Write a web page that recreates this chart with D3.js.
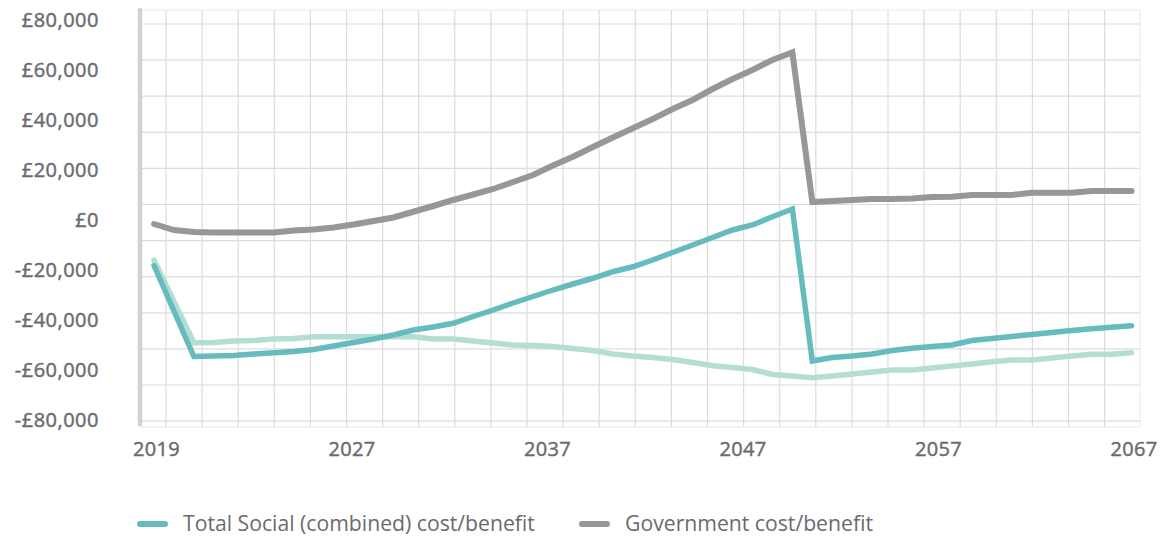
<!DOCTYPE html>
<html>
<head>
<meta charset="utf-8">
<script src="https://cdn.jsdelivr.net/npm/d3@7"></script>
<style>
  html, body { margin: 0; padding: 0; background: #ffffff; }
  svg { display: block; font-family: "Open Sans", "Noto Sans", sans-serif; }
</style>
</head>
<body>
<svg id="chart" width="1164" height="536"></svg>
<script>
// Annual cost/benefit per person, 50 periods from the first year to 2067
const totalSocial = [
  -18200, -36400, -54600, -54400, -54200, -53600, -53100, -52600, -51800, -50400,
  -49000, -47600, -46000, -44000, -42800, -41300, -38600, -36000, -33200, -30600,
  -28000, -25600, -23300, -20700, -18700, -16000, -13000, -10000, -7000, -4000,
  -2000, 1300, 4400, -56400, -55000, -54400, -53600, -52200, -51300, -50600,
  -50000, -48200, -47400, -46600, -45800, -45000, -44200, -43500, -42900, -42300
];
const individual = [
  -16000, -32600, -49100, -49000, -48400, -48200, -47600, -47400, -46700, -46700,
  -46700, -46700, -46600, -46700, -47600, -47600, -48400, -49200, -50000, -50200,
  -50600, -51400, -52200, -53600, -54400, -55000, -55800, -57000, -58300, -59000,
  -59800, -61800, -62400, -63100, -62400, -61600, -60800, -60000, -60000, -59200,
  -58400, -57600, -56700, -56000, -56000, -55200, -54400, -53700, -53700, -53100
];
const government = [
  -1600, -4000, -4800, -5000, -5000, -5000, -5000, -4200, -3800, -3000,
  -1800, -400, 1000, 3300, 5600, 8000, 10200, 12400, 15200, 18000,
  21800, 25300, 29200, 33000, 36700, 40400, 44400, 48000, 52400, 56400,
  60000, 64000, 67000, 7200, 7600, 8000, 8400, 8400, 8600, 9200,
  9300, 10000, 10000, 10000, 10900, 10900, 10900, 11600, 11600, 11600
];

const xTickLabels = ["2019", "2027", "2037", "2047", "2057", "2067"];
const yTickValues = [80000, 60000, 40000, 20000, 0, -20000, -40000, -60000, -80000];

const legendItems = [
  { label: "Total Social (combined) cost/benefit", color: "#66bbbe" },
  { label: "Government cost/benefit", color: "#96969b" }
];

const colors = { total: "#66bbbe", individual: "#b2dfd0", government: "#96969b" };
const textColor = "#6b6b6e";

const svg = d3.select("#chart");

// Plot frame
const frame = { left: 140, right: 1140, top: 10, bottom: 427 };
const plotRange = [154, 1131.5];

const x = d3.scaleLinear().domain([0, totalSocial.length - 1]).range(plotRange);
const xLabels = d3.scalePoint().domain(xTickLabels).range(plotRange);
const y = d3.scaleLinear().domain([-80000, 80000]).range([420, 20]);

// Decorative square grid behind the lines
const cell = 36.1;
const grid = svg.append("g").attr("class", "grid");
grid.append("rect")
  .attr("x", frame.left).attr("y", frame.top)
  .attr("width", frame.right - frame.left).attr("height", frame.bottom - frame.top)
  .attr("fill", "none").attr("stroke", "#ededed").attr("stroke-width", 1.2);
const vLines = d3.range(frame.left + 26, frame.right - 10, cell);
const hLines = d3.range(frame.top + 14, frame.bottom - 2, cell);
grid.selectAll("line.v").data(vLines).join("line")
  .attr("class", "v")
  .attr("x1", d => d).attr("x2", d => d)
  .attr("y1", frame.top).attr("y2", frame.bottom)
  .attr("stroke", "#dcdcdc").attr("stroke-width", 1.2);
grid.selectAll("line.h").data(hLines).join("line")
  .attr("class", "h")
  .attr("x1", frame.left).attr("x2", frame.right)
  .attr("y1", d => d).attr("y2", d => d)
  .attr("stroke", "#dcdcdc").attr("stroke-width", 1.2);

// Left axis bar
svg.append("line")
  .attr("x1", frame.left).attr("x2", frame.left)
  .attr("y1", frame.top).attr("y2", frame.bottom - 3)
  .attr("stroke", "#d2d2d2").attr("stroke-width", 4.5)
  .attr("stroke-linecap", "round");

// Shared styling for axis labels: regular face with a hairline stroke for a medium weight
const styleAxisText = (g, spacing) => g.selectAll("text")
  .attr("fill", textColor)
  .attr("stroke", textColor)
  .attr("stroke-width", 0.45)
  .attr("font-size", 20)
  .attr("letter-spacing", spacing)
  .attr("font-family", "'Open Sans', sans-serif");

// Y axis labels
const fmt = d3.format(",");
const yAxis = d3.axisLeft(y)
  .tickValues(yTickValues)
  .tickSize(0)
  .tickPadding(0)
  .tickFormat(d => (d < 0 ? "-£" : "£") + fmt(Math.abs(d)));
svg.append("g")
  .attr("transform", "translate(99,0)")
  .call(yAxis)
  .call(g => g.select(".domain").remove())
  .call(g => styleAxisText(g, "0.5px"));

// X axis labels
const xAxis = d3.axisBottom(xLabels).tickSize(0).tickPadding(0);
svg.append("g")
  .attr("transform", "translate(2,442)")
  .call(xAxis)
  .call(g => g.select(".domain").remove())
  .call(g => styleAxisText(g, "0.3px"));

// Series lines
const line = d3.line().x((d, i) => x(i)).y(d => y(d));
const series = [
  { values: individual, color: colors.individual, width: 5.5 },
  { values: totalSocial, color: colors.total, width: 5.5 },
  { values: government, color: colors.government, width: 6 }
];
svg.append("g").selectAll("path").data(series).join("path")
  .attr("d", d => line(d.values))
  .attr("fill", "none")
  .attr("stroke", d => d.color)
  .attr("stroke-width", d => d.width)
  .attr("stroke-linecap", "round")
  .attr("stroke-linejoin", "miter");

// Legend
const legendX = [140, 582];
const legend = svg.append("g").attr("transform", "translate(0,524)");
const items = legend.selectAll("g").data(legendItems).join("g")
  .attr("transform", (d, i) => `translate(${legendX[i]},0)`);
items.append("line")
  .attr("x1", 0).attr("x2", 25).attr("y1", 0).attr("y2", 0)
  .attr("stroke", d => d.color).attr("stroke-width", 6)
  .attr("stroke-linecap", "round");
items.append("text")
  .attr("x", 43).attr("y", 0).attr("dy", "0.35em")
  .attr("fill", textColor)
  .attr("font-size", 21.2)
  .attr("font-family", "'Open Sans', sans-serif")
  .text(d => d.label);
</script>
</body>
</html>
